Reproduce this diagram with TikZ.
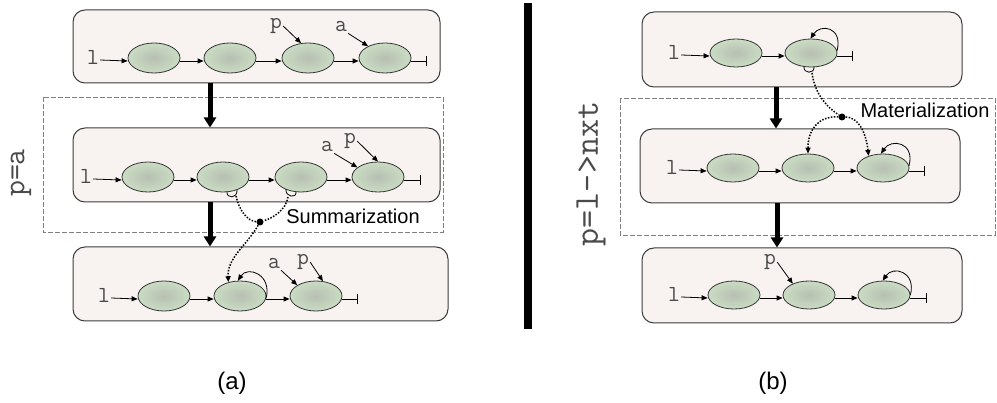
\documentclass[tikz,border=0pt]{standalone}
\usepackage{fontspec}
\setmainfont{Liberation Sans}
\usetikzlibrary{arrows.meta,shapes.geometric}
\definecolor{boxfill}{HTML}{F8F3F1}
\definecolor{boxline}{HTML}{3C3C3C}
\definecolor{ellin}{HTML}{B7BFB2}
\definecolor{ellout}{HTML}{CADCC3}
\definecolor{dashgray}{HTML}{808080}
\definecolor{monotext}{HTML}{4A4A4A}
\begin{document}
\begin{tikzpicture}[x=1pt,y=-1pt,
 panel/.style={draw=boxline, fill=boxfill, rounded corners=12pt, line width=1pt, inner sep=0pt},
 cellL/.style={ellipse, draw=black!80, line width=0.8pt, minimum width=52pt, minimum height=30pt, inner sep=0pt, inner color=ellin, outer color=ellout},
 cellR/.style={cellL, minimum height=28pt},
 mono/.style={font=\ttfamily\fontsize{23}{23}\selectfont, text=monotext, inner sep=1pt},
 ar/.style={-{Triangle[length=6pt,width=5pt]}, line width=0.8pt},
 endbar/.style={-{Bar[width=10pt,line width=0.8pt]}, line width=0.8pt},
 big/.style={-{Triangle[length=10pt,width=12pt]}, line width=5pt},
 dots/.style={line width=1.5pt, dash pattern=on 1.5pt off 1.5pt},
 dotar/.style={dots, -{Triangle[length=6pt,width=5pt]}},
 zone/.style={draw=dashgray, dash pattern=on 5pt off 2pt, line width=0.7pt},
 sflbl/.style={font=\fontsize{20}{20}\selectfont},
 dotnode/.style={circle, fill=black, inner sep=0pt, minimum size=7pt},
 cupline/.style={line width=0.8pt}
]
\useasboundingbox (0,0) rectangle (997,403);

% dashed zones
\draw[zone] (43,97) rectangle (443,232);
\draw[zone] (620,98) rectangle (995,235);

% separator
\fill[black] (524,3) rectangle (532,329);

% panels
\node[panel, minimum width=367pt, minimum height=73pt] (L1) at (256.5,46.5) {};
\node[panel, minimum width=367pt, minimum height=74pt] (L2) at (256.5,165) {};
\node[panel, minimum width=375pt, minimum height=74pt] (L3) at (260.5,284) {};
\node[panel, minimum width=320pt, minimum height=75pt] (R1) at (802,49.5) {};
\node[panel, minimum width=320pt, minimum height=74pt] (R2) at (800,166) {};
\node[panel, minimum width=320pt, minimum height=75pt] (R3) at (802,285.5) {};

% thick arrows
\draw[big] (L1.south -| 210,0) -- (L2.north -| 210,0);
\draw[big] (L2.south -| 210,0) -- (L3.north -| 210,0);
\draw[big] (R1.south -| 776,0) -- (R2.north -| 776,0);
\draw[big] (R2.south -| 777,0) -- (R3.north -| 777,0);

% ---------- left panel 1
\node[mono] (la) at (93,57) {l};
\node[cellL] (a1) at (154,58) {};
\node[cellL] (a2) at (230,58) {};
\node[cellL] (a3) at (308,58) {};
\node[cellL] (a4) at (385,58) {};
\coordinate (ta) at (427,61);
\draw[ar] ([yshift=-3pt]la.east) -- ([yshift=-3pt]a1.west);
\draw[ar] ([yshift=-3pt]a1.east) -- ([yshift=-3pt]a2.west);
\draw[ar] ([yshift=-3pt]a2.east) -- ([yshift=-3pt]a3.west);
\draw[ar] ([yshift=-3pt]a3.east) -- ([yshift=-3pt]a4.west);
\draw[endbar] ([yshift=-3pt]a4.east) -- (ta);
\node[mono] (pa1) at (276,26) {p};
\node[mono] (aa1) at (341,27) {a};
\draw[ar] (pa1.east) -- (a3.115);
\draw[ar] (aa1.south east) -- (a4.145);

% ---------- left panel 2
\node[mono] (lb) at (86,176) {l};
\node[cellL] (b1) at (148,177) {};
\node[cellL] (b2) at (223,177) {};
\node[cellL] (b3) at (301,177) {};
\node[cellL] (b4) at (378,177) {};
\coordinate (tb) at (421,180);
\draw[ar] ([yshift=-3pt]lb.east) -- ([yshift=-3pt]b1.west);
\draw[ar] ([yshift=-3pt]b1.east) -- ([yshift=-3pt]b2.west);
\draw[ar] ([yshift=-3pt]b2.east) -- ([yshift=-3pt]b3.west);
\draw[ar] ([yshift=-3pt]b3.east) -- ([yshift=-3pt]b4.west);
\draw[endbar] ([yshift=-3pt]b4.east) -- (tb);
\node[mono] (ab) at (327,147) {a};
\node[mono] (pb) at (350,141) {p};
\draw[ar] (ab.south east) -- (b4.155);
\draw[ar] (pb.east) -- (b4.north);
\draw[cupline] (227,191.5) .. controls (226,199) and (238,199) .. (237,189.6);
\draw[cupline] (286,189.2) .. controls (285,197) and (297,199) .. (296,191.7);

% ---------- left panel 3
\node[mono] (lc) at (104,295) {l};
\node[cellL] (c1) at (164,296) {};
\node[cellL] (c2) at (240,296) {};
\node[cellL] (c3) at (316,296) {};
\coordinate (tc) at (358,299);
\draw[ar] ([yshift=-3pt]lc.east) -- ([yshift=-3pt]c1.west);
\draw[ar] ([yshift=-3pt]c1.east) -- ([yshift=-3pt]c2.west);
\draw[ar] ([yshift=-3pt]c2.east) -- ([yshift=-3pt]c3.west);
\draw[endbar] ([yshift=-3pt]c3.east) -- (tc);
\node[mono] (ac) at (274,264) {a};
\node[mono] (pc) at (303,262) {p};
\draw[ar] (ac.south east) -- (c3.150);
\draw[ar] (pc.east) -- (c3.65);
\draw[ar] (c2.-5) .. controls +(6,-24) and +(10,-15) .. (c2.98);

% summarization
\coordinate (sb2) at (236,196);
\coordinate (sb3) at (288,197);
\node[dotnode] (dotL) at (260,222) {};
\draw[dots] (sb2) .. controls (239,210) and (247,221) .. (dotL);
\draw[dots] (sb3) .. controls (286,210) and (273,218) .. (dotL);
\draw[dotar] (dotL) .. controls (247,245) and (227,258) .. (c2.130);
\node[sflbl] (summ) at (353,216) {Summarization};

% ---------- right panel 1
\node[mono] (ld) at (674,52) {l};
\node[cellR] (d1) at (736,53) {};
\node[cellR] (d2) at (811,53) {};
\coordinate (td) at (853,56);
\draw[ar] ([yshift=-3pt]ld.east) -- ([yshift=-3pt]d1.west);
\draw[ar] ([yshift=-3pt]d1.east) -- ([yshift=-3pt]d2.west);
\draw[endbar] ([yshift=-3pt]d2.east) -- (td);
\draw[ar] (d2.5) .. controls +(6,-24) and +(10,-15) .. (d2.92);
\draw[cupline] (804,66.5) .. controls (803,74) and (815,74) .. (814,66.9);

% ---------- right panel 2
\node[mono] (lf) at (672,167) {l};
\node[cellR] (f1) at (733,168) {};
\node[cellR] (f2) at (808,168) {};
\node[cellR] (f3) at (883,168) {};
\coordinate (tf) at (925,171);
\draw[ar] ([yshift=-3pt]lf.east) -- ([yshift=-3pt]f1.west);
\draw[ar] ([yshift=-3pt]f1.east) -- ([yshift=-3pt]f2.west);
\draw[ar] ([yshift=-3pt]f2.east) -- ([yshift=-3pt]f3.west);
\draw[endbar] ([yshift=-3pt]f3.east) -- (tf);
\draw[ar] (f3.5) .. controls +(6,-24) and +(10,-15) .. (f3.98);

% ---------- right panel 3
\node[mono] (lg) at (674,294) {l};
\node[cellR] (g1) at (734,295) {};
\node[cellR] (g2) at (809,295) {};
\node[cellR] (g3) at (884,295) {};
\coordinate (tg) at (927,298);
\draw[ar] ([yshift=-3pt]lg.east) -- ([yshift=-3pt]g1.west);
\draw[ar] ([yshift=-3pt]g1.east) -- ([yshift=-3pt]g2.west);
\draw[ar] ([yshift=-3pt]g2.east) -- ([yshift=-3pt]g3.west);
\draw[endbar] ([yshift=-3pt]g3.east) -- (tg);
\node[mono] (pg) at (770,262) {p};
\draw[ar] (pg.east) -- (g2.145);
\draw[ar] (g3.0) .. controls +(6,-24) and +(10,-15) .. (g3.95);

% materialization
\coordinate (sd2) at (812,73);
\node[dotnode] (dotR) at (842,117) {};
\draw[dots] (sd2) .. controls (815,95) and (828,108) .. (dotR);
\draw[dotar] (dotR) .. controls (818,116) and (808,130) .. (f2.north);
\draw[dotar] (dotR) .. controls (858,117) and (866,132) .. (f3.140);
\node[sflbl] (mat) at (925,110) {Materialization};

% conditions and captions
\node[rotate=90, font=\ttfamily\fontsize{31}{31}\selectfont, text=monotext, inner sep=0pt] (condL) at (21,173) {p=a};
\node[rotate=90, font=\ttfamily\fontsize{35}{35}\selectfont, text=monotext, inner sep=0pt] (condR) at (591,174) {p=l->nxt};
\node[font=\fontsize{24}{24}\selectfont] (capa) at (232,383) {(a)};
\node[font=\fontsize{24}{24}\selectfont] (capb) at (773,383) {(b)};
\end{tikzpicture}
\end{document}
